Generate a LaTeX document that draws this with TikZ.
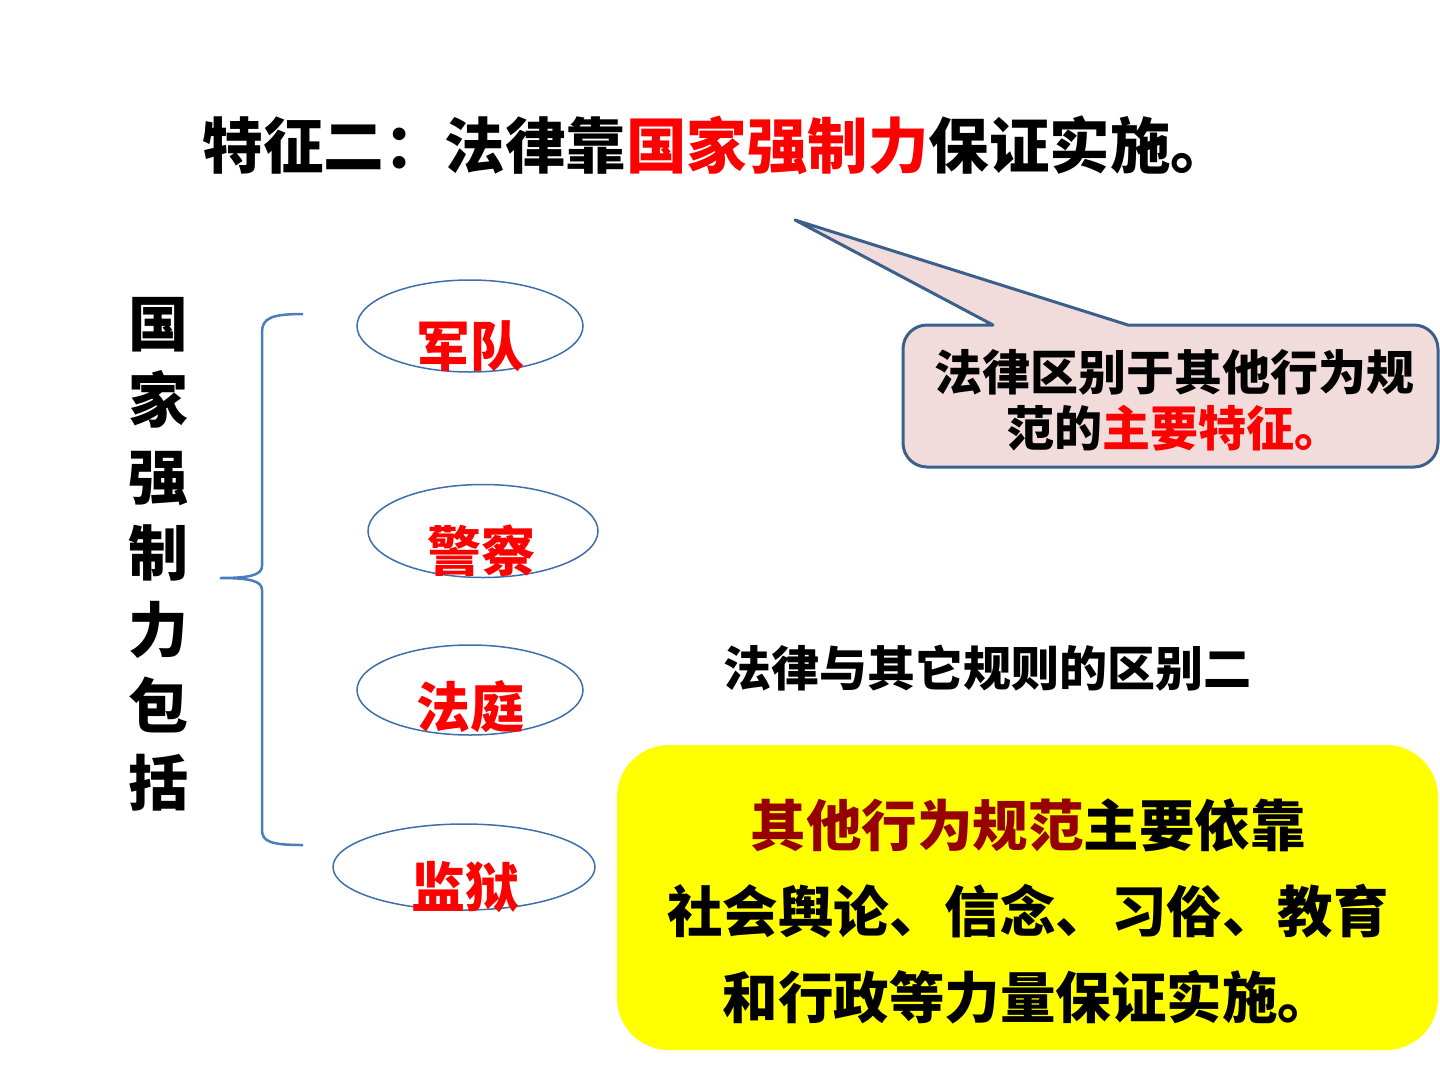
\documentclass[tikz,border=0pt]{standalone}
\usepackage{fontspec}
\setmainfont{Noto Sans CJK SC}[Kerning=Off]
\usetikzlibrary{shapes.geometric}
\definecolor{ellblue}{RGB}{63,110,168}
\definecolor{bracecol}{RGB}{74,126,187}
\definecolor{callfill}{RGB}{242,220,219}
\definecolor{callline}{RGB}{60,96,140}
\definecolor{darkred}{RGB}{150,0,0}
\definecolor{myred}{RGB}{255,0,0}
\definecolor{myyellow}{RGB}{255,255,0}
\begin{document}
\begin{tikzpicture}[x=1pt,y=-1pt,
  txt/.style={inner sep=0pt,font=\bfseries},
  oval/.style={draw=ellblue,line width=1.5pt,ellipse,inner sep=0pt},
  lab/.style={inner sep=0pt,text=myred,font=\bfseries\fontsize{54}{60}\selectfont}]
\useasboundingbox (0,0) rectangle (1440,1080);
% title
\node[txt,font=\bfseries\fontsize{60.5}{70}\selectfont] (title) at (717,145)
  {特征二：法律靠\textcolor{myred}{国家强制力}保证实施。};
% vertical text
\node[txt,align=center,font=\bfseries\fontsize{60}{76.5}\selectfont] (vert) at (158,554)
  {国\\家\\强\\制\\力\\包\\括};
% brace
\coordinate (bt) at (303,314);
\coordinate (bb) at (303,845);
\coordinate (tip) at (220,578);
\draw[bracecol,line width=2.5pt]
  (bt) .. controls (272,314) and (262,318) .. (262,332) -- (262,566)
  .. controls (262,575) and (250,578) .. (tip)
  .. controls (250,578) and (262,581) .. (262,590) -- (262,830)
  .. controls (262,842) and (272,845) .. (bb);
% ellipses
\node[oval,minimum width=226,minimum height=92] (e1) at (470,326) {};
\node[lab] (l1) at (470,346) {军队};
\node[oval,minimum width=230,minimum height=93] (e2) at (483,531) {};
\node[lab] (l2) at (481,551) {警察};
\node[oval,minimum width=226,minimum height=90] (e3) at (470,690) {};
\node[lab] (l3) at (470,707) {法庭};
\node[oval,minimum width=262,minimum height=86] (e4) at (464,867) {};
\node[lab] (l4) at (465,887) {监狱};
% callout
\coordinate (ctip) at (795,220);
\draw[callline,fill=callfill,line width=3pt,line join=round]
  (1128,325) [rounded corners=24] -- (1438,325) -- (1438,467) -- (903,467) -- (903,325) [rounded corners=0] -- (993,325) -- (ctip) -- cycle;
\node[txt,align=center,font=\bfseries\fontsize{48}{56}\selectfont] (calltext) at (1174,400)
  {法律区别于其他行为规\\范的\textcolor{myred}{主要特征。}};
% middle text
\node[txt,font=\bfseries\fontsize{48}{56}\selectfont] (mid) at (987,668) {法律与其它规则的区别二};
% yellow box
\fill[myyellow,rounded corners=52] (617,745) rectangle (1438,1050);
\node[txt,align=center,font=\bfseries\fontsize{55.5}{86}\selectfont] (ybox) at (1028,911)
  {\textcolor{darkred}{其他行为规范}主要依靠\\社会舆论、信念、习俗、教育\\和行政等力量保证实施。};
\end{tikzpicture}
\end{document}
